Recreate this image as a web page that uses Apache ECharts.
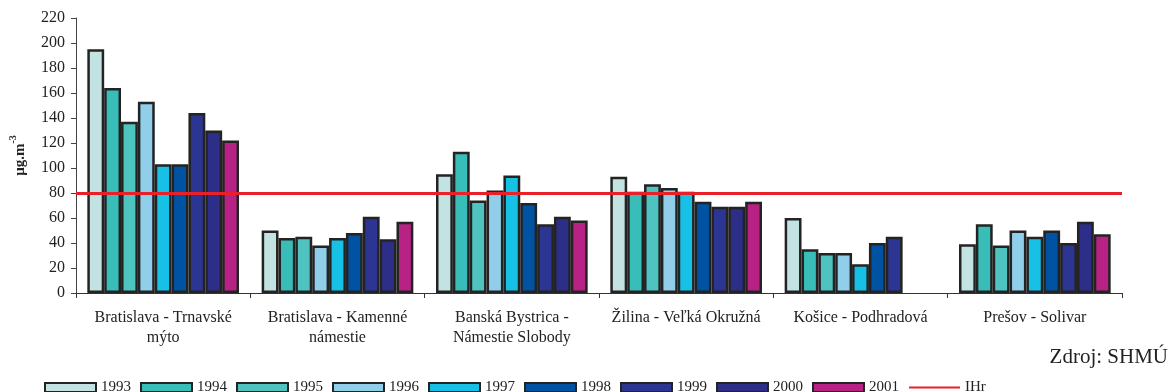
<!DOCTYPE html>
<html>
<head>
<meta charset="utf-8">
<script src="https://cdn.jsdelivr.net/npm/echarts@6/dist/echarts.min.js"></script>
<style>
  html, body { margin: 0; padding: 0; background: #fff; }
  #chart { width: 1170px; height: 392px; }
</style>
</head>
<body>
<div id="chart"></div>
<script>
// Monitoring stations (two-line labels)
const stations = [
  'Bratislava - Trnavské\nmýto',
  'Bratislava - Kamenné\nnámestie',
  'Banská Bystrica -\nNámestie Slobody',
  'Žilina - Veľká Okružná',
  'Košice - Podhradová',
  'Prešov - Solivar'
];

const years = ['1993', '1994', '1995', '1996', '1997', '1998', '1999', '2000', '2001'];

// Annual values per year, one entry per station (µg.m-3); null = no measurement
const v1993 = [195, 50, 95, 93, 60, 39];
const v1994 = [164, 44, 113, 81, 35, 55];
const v1995 = [137, 45, 74, 87, 32, 38];
const v1996 = [153, 38, 82, 84, 32, 50];
const v1997 = [103, 44, 94, 81, 23, 45];
const v1998 = [103, 48, 72, 73, 40, 50];
const v1999 = [144, 61, 55, 69, 45, 40];
const v2000 = [130, 43, 61, 69, null, 57];
const v2001 = [122, 57, 58, 73, null, 47];

// Limit value (IHr)
const limitName = 'IHr';
const limitValue = 80;

const yTicks = { min: 0, max: 220, step: 20 };

const seriesValues = [v1993, v1994, v1995, v1996, v1997, v1998, v1999, v2000, v2001];
const colors = ['#c3e2e2', '#38bdb8', '#4fc3c0', '#91cee9', '#17c1e5', '#0052a2', '#2d3593', '#2d2e88', '#b82285'];

const serif = 'Liberation Serif';
const chart = echarts.init(document.getElementById('chart'), null, { renderer: 'canvas' });

const barSeries = years.map((y, i) => ({
  name: y,
  type: 'bar',
  data: seriesValues[i],
  barGap: '0%',
  barCategoryGap: '13%',
  itemStyle: { color: colors[i], borderColor: '#232323', borderWidth: 2.5 },
  emphasis: { disabled: true },
  animation: false
}));

const limitSeries = {
  name: limitName,
  type: 'line',
  data: [],
  symbol: 'none',
  lineStyle: { color: '#e8202a', width: 3 },
  itemStyle: { color: '#e8202a' },
  animation: false,
  markLine: {
    silent: true,
    symbol: 'none',
    label: { show: false },
    lineStyle: { color: '#e8202a', width: 3, type: 'solid' },
    data: [{ yAxis: limitValue }],
    animation: false
  }
};

chart.setOption({
  animation: false,
  title: {
    text: 'Zdroj: SHMÚ',
    right: 2,
    top: 347,
    padding: 0,
    textStyle: { fontFamily: serif, fontSize: 21, fontWeight: 'normal', color: '#222' }
  },
  legend: {
    left: 39,
    top: 375,
    itemWidth: 51,
    itemHeight: 9,
    itemGap: 9,
    textStyle: { fontFamily: serif, fontSize: 15, color: '#222' },
    data: years.map(y => ({ name: y, icon: 'rect' })).concat([{
      name: limitName,
      itemStyle: { color: 'rgba(0,0,0,0)', borderColor: 'rgba(0,0,0,0)', borderWidth: 0 }
    }])
  },
  grid: { left: 73, right: 48, top: 18, bottom: 99, containLabel: false },
  xAxis: {
    type: 'category',
    data: stations,
    axisLine: { lineStyle: { color: '#333', width: 1 } },
    axisTick: { show: true, length: 5, interval: 0, lineStyle: { color: '#333' } },
    axisLabel: {
      interval: 0,
      margin: 15,
      lineHeight: 20,
      fontFamily: serif,
      fontSize: 16,
      color: '#222'
    },
    splitLine: { show: false }
  },
  yAxis: {
    type: 'value',
    min: yTicks.min,
    max: yTicks.max,
    interval: yTicks.step,
    name: '{m|µg.m}{s|-3}',
    nameLocation: 'middle',
    nameRotate: 90,
    nameGap: 48,
    nameTextStyle: {
      rich: {
        m: { fontFamily: serif, fontSize: 15, fontWeight: 'bold', color: '#222', lineHeight: 20, verticalAlign: 'bottom' },
        s: { fontFamily: serif, fontSize: 10, fontWeight: 'bold', color: '#222', lineHeight: 20, verticalAlign: 'top', padding: [0, 0, 10, 0] }
      }
    },
    axisLine: { show: true, lineStyle: { color: '#444', width: 1 } },
    axisTick: { show: true, length: 5, lineStyle: { color: '#444' } },
    axisLabel: { margin: 11, fontFamily: serif, fontSize: 16, color: '#222' },
    splitLine: { show: false }
  },
  series: barSeries.concat([limitSeries])
});
</script>
</body>
</html>
